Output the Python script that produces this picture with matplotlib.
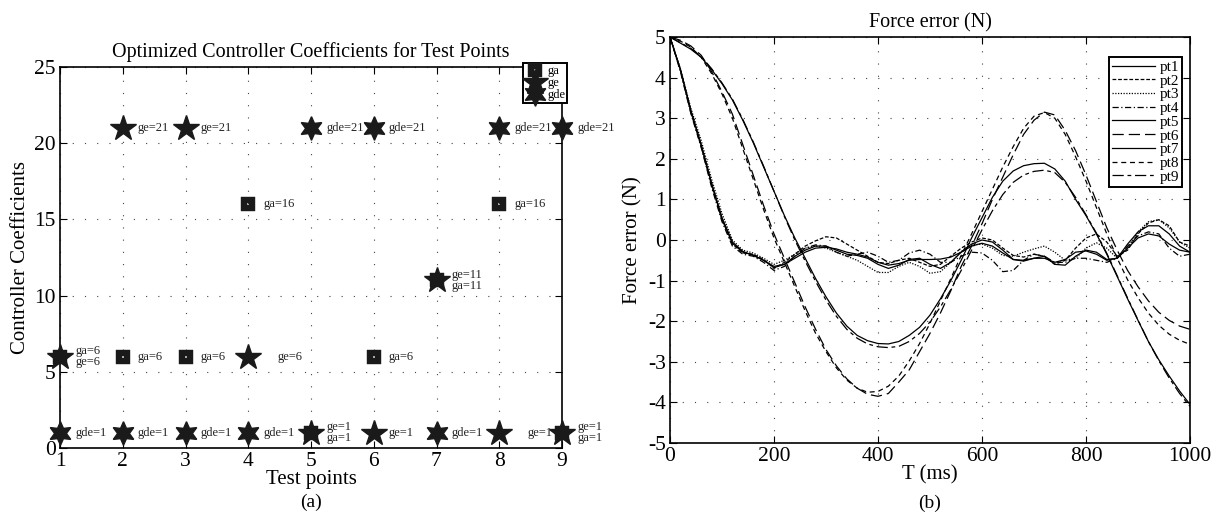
import numpy as np
import matplotlib.pyplot as plt
from matplotlib.path import Path

plt.rcParams['font.family'] = ['Liberation Serif', 'DejaVu Serif']
plt.rcParams['axes.unicode_minus'] = False

# --- dati pannello (a): coefficienti ottimizzati per punto di test
punti = [1, 2, 3, 4, 5, 6, 7, 8, 9]
ga = [6, 6, 6, 16, 1, 6, 11, 16, 1]
ge = [6, 21, 21, 6, 1, 1, 11, 1, 1]
gde = [1, 1, 1, 1, 21, 21, 1, 21, 21]

# --- dati pannello (b): errore di forza (N), campioni ogni 20 ms
t_ms = np.arange(0, 1001, 20)
pt1 = [5, 4.2, 3.2, 2.35, 1.4, 0.55, -0.05, -0.28, -0.38, -0.5,
       -0.68, -0.6, -0.45, -0.3, -0.2, -0.18, -0.22, -0.3, -0.35, -0.42, -0.55,
       -0.62, -0.58, -0.5, -0.48, -0.48, -0.47, -0.42, -0.3, -0.15, -0.08,
       -0.15, -0.32, -0.48, -0.5, -0.45, -0.45, -0.55, -0.48, -0.3, -0.27,
       -0.35, -0.5, -0.45, -0.2, 0.05, 0.15, 0.1, -0.1, -0.25, -0.3]
pt2 = [5, 4.18, 3.15, 2.3, 1.35, 0.5, -0.1, -0.32, -0.35, -0.48,
       -0.7, -0.55, -0.35, -0.15, -0.02, 0.08, 0.05, -0.1, -0.25, -0.4, -0.55,
       -0.58, -0.5, -0.45, -0.55, -0.65, -0.6, -0.4, -0.2, -0.05, 0.05,
       0.0, -0.2, -0.38, -0.42, -0.35, -0.4, -0.6, -0.5, -0.2, 0.05,
       0.15, -0.05, -0.4, -0.25, 0.15, 0.42, 0.5, 0.35, -0.05, -0.15]
pt3 = [5, 4.22, 3.25, 2.45, 1.5, 0.65, 0.0, -0.25, -0.32, -0.45,
       -0.6, -0.5, -0.35, -0.2, -0.15, -0.2, -0.3, -0.4, -0.5, -0.65, -0.8,
       -0.8, -0.65, -0.55, -0.65, -0.82, -0.78, -0.55, -0.28, -0.12, -0.1,
       -0.2, -0.38, -0.4, -0.3, -0.22, -0.15, -0.3, -0.5, -0.45, -0.2,
       -0.07, -0.2, -0.45, -0.2, 0.2, 0.45, 0.5, 0.3, -0.05, -0.2]
pt4 = [5, 4.15, 3.12, 2.28, 1.3, 0.45, -0.15, -0.35, -0.4, -0.55,
       -0.75, -0.65, -0.4, -0.2, -0.12, -0.15, -0.3, -0.4, -0.35, -0.3, -0.4,
       -0.55, -0.5, -0.32, -0.25, -0.35, -0.55, -0.55, -0.4, -0.3, -0.32,
       -0.5, -0.78, -0.75, -0.5, -0.35, -0.4, -0.55, -0.55, -0.45, -0.45,
       -0.5, -0.55, -0.45, -0.15, 0.1, 0.2, 0.15, -0.2, -0.4, -0.35]
pt5 = [5, 4.85, 4.7, 4.5, 4.2, 3.85, 3.45, 2.95, 2.4, 1.8,
       1.2, 0.6, 0.05, -0.45, -0.95, -1.4, -1.8, -2.12, -2.35, -2.48, -2.55,
       -2.56, -2.5, -2.35, -2.15, -1.85, -1.45, -1.0, -0.5, 0.05, 0.55,
       1.05, 1.45, 1.7, 1.83, 1.88, 1.89, 1.75, 1.45, 1.0, 0.6,
       0.15, -0.35, -0.9, -1.45, -1.98, -2.5, -2.95, -3.35, -3.72, -4.05]
pt6 = [5, 4.92, 4.78, 4.55, 4.15, 3.65, 3.1, 2.35, 1.6, 0.85,
       0.15, -0.45, -1.05, -1.65, -2.2, -2.7, -3.1, -3.42, -3.65, -3.8, -3.85,
       -3.78, -3.5, -3.2, -2.75, -2.3, -1.8, -1.25, -0.65, -0.15, 0.4,
       1.0, 1.55, 2.1, 2.6, 2.95, 3.15, 3.08, 2.7, 2.2, 1.6,
       0.95, 0.3, -0.25, -0.75, -1.15, -1.5, -1.78, -1.98, -2.12, -2.2]
pt7 = [5, 4.2, 3.18, 2.33, 1.38, 0.52, -0.08, -0.3, -0.37, -0.5,
       -0.65, -0.6, -0.4, -0.25, -0.15, -0.15, -0.25, -0.35, -0.38, -0.45, -0.6,
       -0.7, -0.62, -0.48, -0.45, -0.6, -0.7, -0.55, -0.3, -0.1, 0.0,
       -0.05, -0.25, -0.48, -0.52, -0.45, -0.4, -0.6, -0.62, -0.4, -0.25,
       -0.3, -0.48, -0.45, -0.1, 0.2, 0.35, 0.35, 0.15, -0.15, -0.3]
pt8 = [5, 4.9, 4.75, 4.5, 4.1, 3.6, 3.0, 2.25, 1.5, 0.75,
       0.05, -0.55, -1.15, -1.75, -2.3, -2.75, -3.15, -3.45, -3.65, -3.75, -3.73,
       -3.6, -3.35, -2.98, -2.55, -2.05, -1.5, -0.95, -0.38, 0.15, 0.7,
       1.25, 1.8, 2.3, 2.75, 3.05, 3.14, 3.0, 2.6, 2.05, 1.45,
       0.8, 0.15, -0.45, -0.98, -1.42, -1.8, -2.1, -2.32, -2.47, -2.57]
pt9 = [5, 4.86, 4.72, 4.52, 4.22, 3.87, 3.47, 2.97, 2.42, 1.82,
       1.2, 0.58, 0.0, -0.52, -1.02, -1.48, -1.88, -2.2, -2.42, -2.56, -2.63,
       -2.65, -2.62, -2.5, -2.3, -2.02, -1.65, -1.22, -0.75, -0.25, 0.25,
       0.72, 1.12, 1.42, 1.6, 1.69, 1.72, 1.66, 1.42, 1.05, 0.62,
       0.17, -0.33, -0.88, -1.43, -1.97, -2.5, -2.97, -3.4, -3.78, -4.1]
serie = [pt1, pt2, pt3, pt4, pt5, pt6, pt7, pt8, pt9]
nomi_serie = ['pt1', 'pt2', 'pt3', 'pt4', 'pt5', 'pt6', 'pt7', 'pt8', 'pt9']

stili = ['-', (0, (3, 1.5)), (0, (1, 1.2)), (0, (5, 2, 1, 2)), '-',
         (0, (9, 4)), '-', (0, (4, 3)), (0, (9, 3, 3, 3))]

W, H = 1222, 516
fig = plt.figure(figsize=(W / 100, H / 100), dpi=100)
ax1 = fig.add_axes([60 / W, 1 - 448 / H, 502 / W, 381 / H])
ax2 = fig.add_axes([670 / W, 1 - 443 / H, 520 / W, 406 / H])

griglia = dict(color='#444444', linestyle=(0, (1, 10)), linewidth=0.8)

# marker quadrato pieno con un forellino bianco al centro
vq = [(-1, -1), (1, -1), (1, 1), (-1, 1), (-1, -1),
      (-0.18, -0.18), (-0.18, 0.18), (0.18, 0.18), (0.18, -0.18), (-0.18, -0.18)]
cq = [Path.MOVETO, Path.LINETO, Path.LINETO, Path.LINETO, Path.CLOSEPOLY] * 2
quadrato = Path(vq, cq)
esagramma = (6, 1, 0)

# ---------------- pannello (a)
ax1.plot(punti, ga, linestyle='none', marker=quadrato, ms=10, mfc='#1a1a1a',
         mec='#1a1a1a', mew=0.3, label='ga', clip_on=False, zorder=3)
ax1.plot(punti, ge, linestyle='none', marker='*', ms=19, mfc='#1a1a1a',
         mec='#1a1a1a', label='ge', clip_on=False, zorder=4)
ax1.plot(punti, gde, linestyle='none', marker=esagramma, ms=17, mfc='#1a1a1a',
         mec='#1a1a1a', label='gde', clip_on=False, zorder=5)

# etichette "nome=valore" accanto ai marker
spost_speciali = {(4, 'ge'): 0.46, (8, 'ge'): 0.45}
for i, p in enumerate(punti):
    valori = {'ga': ga[i], 'ge': ge[i], 'gde': gde[i]}
    ordine = ['ga', 'ge', 'gde'] if i == 0 else ['ge', 'ga', 'gde']
    fatti = set()
    for n in ordine:
        v = valori[n]
        if v in fatti:
            continue
        fatti.add(v)
        nomi = [m for m in ordine if valori[m] == v]
        testo = '\n'.join(f'{m}={v}' for m in nomi)
        dx = spost_speciali.get((p, nomi[0]), 0.24)
        ax1.text(p + dx, v, testo, fontsize=9, va='center', ha='left',
                 linespacing=0.85, color='#222222', clip_on=False)

ax1.set_xlim(1, 9)
ax1.set_ylim(0, 25)
ax1.set_xticks(punti)
ax1.set_yticks([0, 5, 10, 15, 20, 25])
ax1.grid(True, **griglia)
ax1.set_title('Optimized Controller Coefficients for Test Points', fontsize=14.5, pad=7)
ax1.set_xlabel('Test points', fontsize=15, labelpad=-1)
ax1.set_ylabel('Controller Coefficients', fontsize=15)
ax1.yaxis.set_label_coords(-30 / 502, 0.5)
leg1 = ax1.legend(loc='upper right', bbox_to_anchor=(1.01, 1.01), borderaxespad=0,
                  fontsize=9, handlelength=1.6, handletextpad=0.2, labelspacing=0.0,
                  borderpad=0.15, fancybox=False, framealpha=1, edgecolor='black',
                  numpoints=1)
leg1.get_frame().set_linewidth(1.4)
leg1.set_zorder(10)

# ---------------- pannello (b)
for y, nome, st in zip(serie, nomi_serie, stili):
    ax2.plot(t_ms, y, color='black', linestyle=st, linewidth=0.9, label=nome)

ax2.set_xlim(0, 1000)
ax2.set_ylim(-5, 5)
ax2.set_xticks([0, 200, 400, 600, 800, 1000])
ax2.set_yticks(range(-5, 6))
ax2.grid(True, **griglia)
ax2.set_title('Force error (N)', fontsize=14.5, pad=7)
ax2.set_xlabel('T (ms)', fontsize=15, labelpad=-1)
ax2.set_ylabel('Force error (N)', fontsize=15)
ax2.yaxis.set_label_coords(-28 / 520, 0.5)
leg2 = ax2.legend(loc='upper right', bbox_to_anchor=(0.985, 0.95), borderaxespad=0,
                  fontsize=11, handlelength=2.8, handletextpad=0.3, labelspacing=0.0,
                  borderpad=0.2, fancybox=False, framealpha=1, edgecolor='black')
leg2.get_frame().set_linewidth(1.4)

for ax in (ax1, ax2):
    ax.tick_params(direction='in', length=5, width=0.8, labelsize=15.5,
                   top=True, right=True, pad=3)
    for s in ax.spines.values():
        s.set_linewidth(1.2)
    ax.set_axisbelow(True)

fig.text(311 / W, 1 - 502 / H, '(a)', fontsize=14, ha='center', va='center')
fig.text(930 / W, 1 - 503 / H, '(b)', fontsize=14, ha='center', va='center')

fig.savefig('out.png', dpi=100)
